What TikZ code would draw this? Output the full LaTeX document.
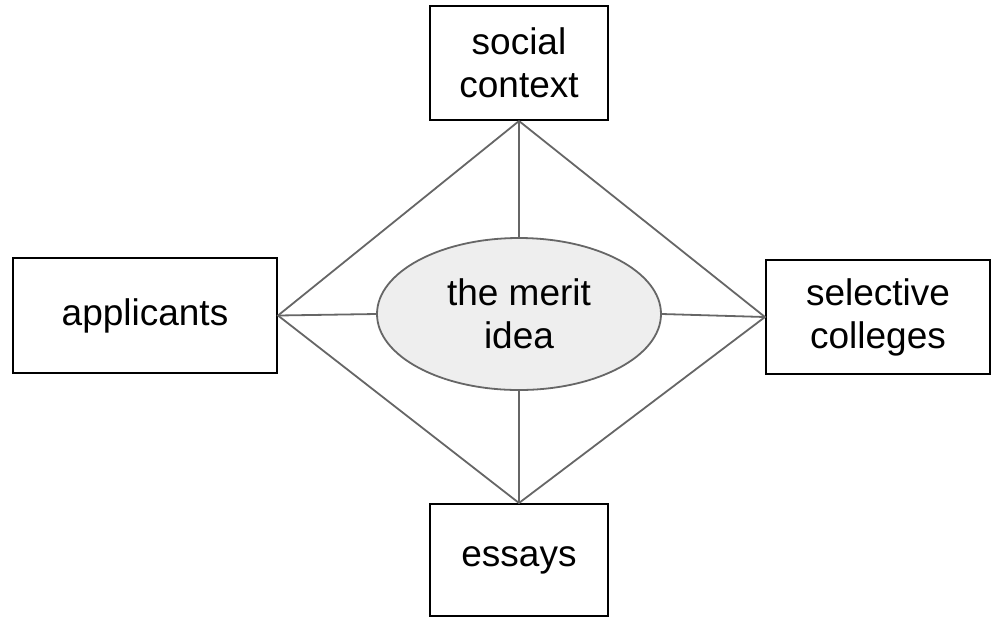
\documentclass[tikz,border=0pt]{standalone}
\usepackage{fontspec}
\setmainfont{Liberation Sans}
\usepackage{tikz}
\usetikzlibrary{shapes.geometric}
\definecolor{linegray}{HTML}{666666}
\definecolor{ideafill}{HTML}{EEEEEE}

\begin{document}
\begin{tikzpicture}[x=0.5pt, y=-0.5pt,
    box/.style={draw=black, line width=1pt, fill=white, align=center, inner sep=0pt,
        font=\fontsize{18.5}{21.5}\selectfont},
    idea/.style={ellipse, draw=linegray, line width=0.9pt, fill=ideafill, align=center, inner sep=0pt,
        minimum width=142pt, minimum height=76pt, font=\fontsize{18.5}{21.5}\selectfont},
    link/.style={draw=linegray, line width=0.9pt}]
    \useasboundingbox (0,0) rectangle (991,618);
    \node[box, minimum width=89pt, minimum height=57pt] (social) at (519,63) {social\\context};
    \node[box, minimum width=132pt, minimum height=57.5pt] (applicants) at (145,315.5) {applicants};
    \node[box, minimum width=112pt, minimum height=57pt] (colleges) at (878,317) {selective\\colleges};
    \node[box, minimum width=89pt, minimum height=56pt] (essays) at (519,560) {essays};
    \node[idea] (merit) at (519,314) {the merit\\idea};
    % diamond around the idea
    \draw[link] (social.south) -- (applicants.east) -- (essays.north) -- (colleges.west) -- (social.south);
    % spokes to the idea
    \draw[link] (social.south) -- (merit.north);
    \draw[link] (applicants.east) -- (merit.west);
    \draw[link] (colleges.west) -- (merit.east);
    \draw[link] (essays.north) -- (merit.south);
\end{tikzpicture}
\end{document}
